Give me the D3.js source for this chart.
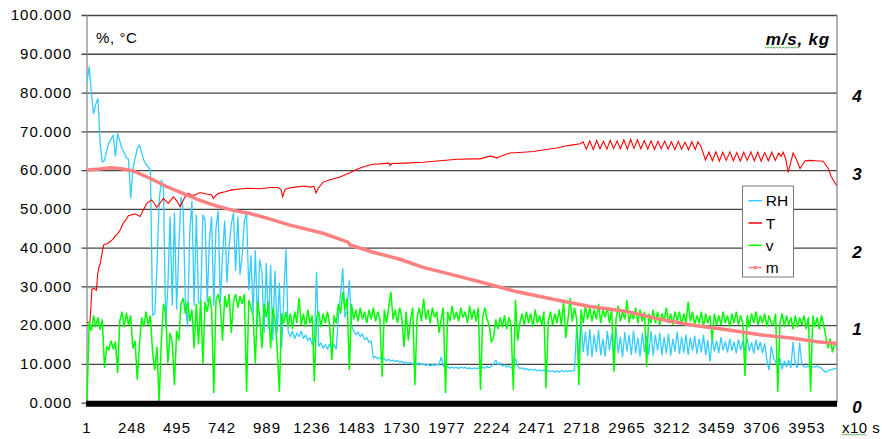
<!DOCTYPE html>
<html><head><meta charset="utf-8">
<script src="https://cdn.jsdelivr.net/npm/d3@7"></script>
<style>
body{margin:0;background:#fff}
svg{display:block}
text{font-family:"Liberation Sans",Arial,Helvetica,sans-serif;fill:#000}
</style>
</head><body>
<svg id="chart" width="882" height="439"></svg>
<script>
// ---------- DATA ----------
const xTickLabels = [1,248,495,742,989,1236,1483,1730,1977,2224,2471,2718,2965,3212,3459,3706,3953];
const leftTicks = [0,10,20,30,40,50,60,70,80,90,100];
const rightTickLabels = [0,1,2,3,4];
const seriesNames = ["RH","T","v","m"];
const timeMax = 4118;

// RH and v are read every 12 time steps, starting at time 1
const sampleStep = 12;
const rhValues = [
82.7,86.7,80,74.5,77,78.5,67,62,62.5,65,
67,68,69,63.5,69.5,67.5,65.5,64.5,63.2,62.8,
52.7,60.5,63,65.5,66.5,64.5,62.5,61.5,60.8,60.2,
22.5,23,35,52,57.5,55,19.6,30,48,25,
49,24,40,53,50,26,19.5,44,52,25,
48.5,26,25.5,48.5,47,26,42,48,25,45,
49.5,26,38,47,31,40,46,49,34,48,
33,38,47,48.9,29,38,23,39.4,20,37,
34,18,36,19,35.5,16,34,18,31,14,
27,39.6,18.5,17,18.5,16.5,18,17,18.5,16.5,
17.5,16,16.8,15,15.8,33.8,14.5,15.5,14,15,
13.8,15.2,14,15,13.8,22,28,34.7,22,24,
31.6,20,18.5,17.5,18.3,17,17.8,16.2,16.8,15.5,
16,11.5,11.9,11.3,11.7,11,11.4,10.8,11.2,10.7,
11,10.6,10.9,10.4,10.7,10.2,10.5,10.1,10.4,9.9,
10.3,9.8,10.2,9.8,10,9.6,9.9,9.5,9.8,9.6,
9.9,9.7,11.8,9.4,9.1,9.3,8.9,9.2,8.9,9.1,
8.8,9.2,8.9,9.1,8.8,9.0,8.7,9.0,8.8,9.0,
8.8,9.1,8.9,9.3,9.0,9.4,10,11,9.8,10.3,
9.4,9.8,9.2,9.5,9.0,9.3,11.5,9.5,8.8,9.0,
8.6,8.8,8.4,8.7,8.3,8.6,8.2,8.5,8.1,8.4,
8.0,8.3,8.0,8.2,7.9,8.2,7.9,8.3,8.0,8.2,
8.0,8.3,8.1,8.4,19.6,12,20.9,13,18.3,12,
19,11.8,17.5,13,18.8,12.2,16.5,11.9,18.5,13.5,
17.8,12,19.2,12.8,17,11.8,18.2,13.2,17.5,12.3,
18.6,12.8,16.8,11.9,18,13,17.2,12.4,18.5,12,
17.6,13.4,18,12.2,16.9,12.8,17.8,12.1,16.5,13.2,
18.3,12.5,17,12.9,17.6,12.3,16.8,13.4,17.3,12.6,
16.5,13,17.5,12.2,16.2,10.6,16.8,13.2,16,12.8,
16.9,13.5,15.8,12.9,16.5,13.4,15.7,12.8,16.3,13.6,
15.9,13,16.6,13.3,15.5,12.7,16.2,13.5,15.7,12.8,
15.3,11,8.4,14.5,11.8,10.5,9,11.5,8.6,10.8,
9.2,11,9,15.7,10,9,15.5,9.8,9.3,9.2,
9.4,9.1,9.3,9.2,9.5,9.1,8.9,8.2,7.9,8.2,
8.5,8.6,8.8,8.9
];
const vValues = [
0,21,18.5,22.5,19.5,22,18.8,21.5,9,14.5,
13.5,16,13.8,15.8,7.7,21,23.5,19.5,23.2,20,
22.5,14,16,5.9,15,22,19.6,23.5,20,22.5,
13,8.4,14.5,0.3,16,25.5,23,10.2,18,15.5,
4.6,18.5,16,25.5,27,23,26,21,24,14,
25.5,15,26.5,10,26,23.5,27.5,24,2.5,26.5,
28,25,16,27.5,24.5,28,18,26,28,24.5,
27.5,25.5,28,2.8,26.5,24.5,22.5,10.2,26,22.5,
14,25.5,22,26,14,24.5,21.5,14,2.8,23,
20.5,23.5,19.5,23,19,23.5,20.5,27,20,23,
19.5,24,20.5,22.5,5.4,22,23.5,19.5,23,20.5,
23.5,20,11,22.5,20.5,25.5,23,28.6,24,27,
8.4,25.5,21.5,24,21,24.5,21.5,23.5,20.5,24,
21.5,24.5,21,23.5,21.5,6.7,24,20.5,24.5,28.6,
21.5,24,20.5,24.5,22,14.4,23.5,16,21.5,24.5,
4.6,22,24.5,21,26.8,21.5,24,20.5,24.5,22,
23.5,18,21.5,24.5,2.5,23.5,21,25,21.5,23.5,
21,24.5,22,23.5,20.5,25,21.5,24,21,24.5,
3.3,22,24.5,21.5,20,15.5,17,21.5,19,22,
19.5,22.5,19,22,20,3.3,26.5,16,20.5,23,
20,23.5,20.5,23,19.5,24,20.5,22.5,20,23.5,
3.7,21,23.5,20,23,20.5,24,20,26,16.7,
21.5,27,21,24.5,21.5,4.6,24,20.5,25,21.5,
24.5,21,24,21.5,25.5,20.5,24,22,24.5,20.5,
24,8,21.5,25,21,23.5,21.5,26.5,20.5,23.5,
21.5,24.5,20.5,24,21,23.5,9.3,23,20.5,24,
20.5,23.5,20,23,21,24.5,20.5,23,20,23.5,
21,23.5,20,23,20.5,26,21,23.5,20,22.5,
20.5,23.5,19.5,23,20.5,22.5,16,23,20,22.5,
20,23.5,20.5,22.5,19.5,23,20.5,23.5,20,22.5,
20.5,6.9,22.5,19.5,23,20.5,23.5,20,22.5,20.5,
23,19.5,22.5,20.5,20,23,2.8,20.5,23,19.5,
22.5,20,22,19,22.5,19.5,22,20,22.5,19,
22,2.8,22.5,19.5,22,19,22.5,20,17,14,
16.5,13,15.5,14.5
];

// T: time (x10 s) and value (°C)
const tTime = [
1,17,23,28,39,53,59,67,72,78,89,94,111,127,144,160,171,182,200,215,228,243,265,292,310,329,356,369,384,402,
420,447,475,495,512,528,539,557,577,594,621,649,686,694,709,722,759,795,841,887,951,1006,1051,1066,1075,1088,1106,1143,1198,1225,
1247,1258,1269,1297,1335,1390,1445,1483,1527,1571,1610,1659,1664,1675,1747,1846,1939,2032,2131,2159,2213,2235,2252,2268,2323,2395,2450,2504,2581,2625,
2669,2708,2724,2742,2761,2780,2799,2817,2836,2855,2873,2892,2911,2929,2948,2967,2985,3004,3023,3041,3060,3079,3097,3116,3135,3153,3172,3191,3209,3228,
3247,3265,3284,3303,3321,3340,3355,3372,3396,3415,3434,3453,3472,3491,3510,3530,3549,3568,3587,3606,3625,3645,3664,3683,3702,3721,3741,3760,3779,3798,
3812,3822,3836,3850,3864,3877,3895,3915,3930,3943,3970,4000,4042,4069,4087,4105,4118
];
const tValues = [
20.7,20.8,25,29.3,29.5,29,33,35,35.5,37,40,40.8,41,41.5,42.2,43.2,43.7,44.5,46.3,47.2,48.2,48.4,48.7,48,49.7,51.4,52.3,51.5,50.4,51.5,
52.7,51.4,53.1,52,50.6,52,53.1,54,53.5,53.6,54.2,53.9,53.6,52.7,53.5,54,54.4,54.9,55.1,55.3,55.2,55.5,55.5,55,53.1,55,55.3,55.6,55.9,55.6,
55.8,54.1,55.2,56.9,57.5,58.2,59.3,60.2,61,61.5,61.6,61.8,61.2,61.7,61.8,62,62.4,62.8,62.9,62.9,63.6,63.4,63.1,63.5,64.4,64.6,64.8,65.2,65.7,66.2,
66.5,66.8,67.3,65.4,67.5,65.3,67.6,65.5,67.4,65.4,67.7,65.6,67.5,65.5,67.8,65.4,67.9,65.6,67.8,65.5,67.6,65.4,67.5,65.3,67.4,65.5,67.5,65.4,67.3,65.3,
67.4,65.4,67.2,65.2,67.3,65.3,67.3,66,62.6,64.6,62.4,64.7,62.3,64.6,62.5,64.7,62.4,64.5,62.3,64.6,62.5,64.7,62.4,64.6,62.3,64.5,62.4,64.6,62.5,64.4,
63.5,64.6,63,59.4,62,64.4,62.8,60.4,61.5,62.4,62.5,62.4,62.3,60.5,58.3,56.8,56
];

// m: time (x10 s) and mass (kg)
const mTime = [1,72,127,182,254,347,440,528,621,715,803,896,989,1115,1297,1434,1445,1571,1719,1846,2032,2213,2362,2581,2762,2966,3147,3328,3515,3696,3877,4009,4118];
const mValues = [3.0,3.015,3.03,3.02,2.99,2.895,2.785,2.70,2.61,2.535,2.48,2.44,2.38,2.29,2.185,2.07,2.035,1.94,1.85,1.745,1.635,1.525,1.43,1.325,1.24,1.175,1.075,1.0,0.94,0.875,0.83,0.785,0.765];

// ---------- DRAW ----------
const colors = {RH:"#33CCFF", T:"#FF0000", v:"#00FF00", m:"#FF8080"};
const svg = d3.select("#chart");
const plot = {left:87, right:837, top:15, bottom:402.7};

const x = d3.scaleLinear().domain([1, timeMax]).range([plot.left, plot.right]);
const y = d3.scaleLinear().domain([0, 100]).range([plot.bottom, plot.top]);
const yR = d3.scaleLinear().domain([0, 5]).range([plot.bottom, plot.top]);

// gridlines + left ticks
const yAxis = d3.axisLeft(y).tickValues(leftTicks)
  .tickSize(-(plot.right - plot.left)).tickSizeOuter(0).tickPadding(15)
  .tickFormat(d3.format(".3f"));
const gy = svg.append("g").attr("transform", `translate(${plot.left},0)`).call(yAxis);
gy.select(".domain").remove();
gy.selectAll(".tick line").attr("stroke", "#444").attr("stroke-width", 1.3).attr("x1", -5.5);
gy.selectAll(".tick text").attr("font-size", 15).attr("letter-spacing", "1px")
  .attr("font-family", '"Liberation Sans",Arial,sans-serif').attr("fill", "#000");

// plot frame
svg.append("line").attr("x1", plot.left).attr("x2", plot.left).attr("y1", plot.top).attr("y2", plot.bottom)
  .attr("stroke", "#808080").attr("stroke-width", 1.2);
svg.append("line").attr("x1", plot.right).attr("x2", plot.right).attr("y1", plot.top).attr("y2", plot.bottom)
  .attr("stroke", "#808080").attr("stroke-width", 1.2);

// series
const rhData = rhValues.map((v, i) => [1 + i * sampleStep, v]);
const vData = vValues.map((v, i) => [1 + i * sampleStep, v]);
const tData = tTime.map((t, i) => [t, tValues[i]]);
const mData = mTime.map((t, i) => [t, mValues[i]]);

const lineL = d3.line().x(d => x(d[0])).y(d => y(d[1]));
const lineR = d3.line().x(d => x(d[0])).y(d => yR(d[1]));

svg.append("path").datum(rhData).attr("d", lineL).attr("fill", "none")
  .attr("stroke", colors.RH).attr("stroke-width", 1.3).attr("stroke-linejoin", "bevel");
svg.append("path").datum(tData).attr("d", lineL).attr("fill", "none")
  .attr("stroke", colors.T).attr("stroke-width", 1.1);
svg.append("path").datum(vData).attr("d", lineL).attr("fill", "none")
  .attr("stroke", colors.v).attr("stroke-width", 1.5).attr("stroke-linejoin", "bevel");
svg.append("path").datum(mData).attr("d", lineR).attr("fill", "none")
  .attr("stroke", colors.m).attr("stroke-width", 3.5);

// heavy category axis line
svg.append("line").attr("x1", plot.left - 1).attr("x2", plot.right).attr("y1", y(0) + 1).attr("y2", y(0) + 1)
  .attr("stroke", "#000").attr("stroke-width", 6);

// x tick labels
svg.append("g").selectAll("text").data(xTickLabels).join("text")
  .attr("x", d => x(d)).attr("y", 433).attr("text-anchor", "middle")
  .attr("font-size", 15).attr("letter-spacing", "1px").text(d => d);
svg.append("text").attr("x", 842).attr("y", 433).attr("font-size", 15).attr("letter-spacing", "0.5px").text("x10 s");

// right labels (secondary axis)
svg.append("g").selectAll("text").data(rightTickLabels).join("text")
  .attr("x", 857).attr("y", d => yR(d) + 4).attr("dy", "0.35em").attr("text-anchor", "middle")
  .attr("font-size", 17).attr("font-weight", "bold").attr("font-style", "italic").text(d => d);

// axis titles
svg.append("text").attr("x", 96).attr("y", 43).attr("font-size", 15).attr("letter-spacing", "0.6px").text("%, °C");
svg.append("text").attr("x", 830).attr("y", 45).attr("text-anchor", "end")
  .attr("font-size", 17).attr("font-weight", "bold").attr("font-style", "italic").attr("letter-spacing", "0.8px").text("m/s, kg");

// spell-check squiggles
function squiggle(x0, x1, yy) {
  const pts = [];
  for (let xx = x0, k = 0; xx <= x1; xx += 1.5, k++) pts.push([xx, yy + (k % 2 ? 1 : 0)]);
  svg.append("path").attr("d", d3.line()(pts)).attr("fill", "none").attr("stroke", "#3a9a3a").attr("stroke-width", 0.8);
}
squiggle(765, 798, 47);
squiggle(842, 867, 434);

// legend
const lg = svg.append("g").attr("transform", "translate(742.5,186)");
lg.append("rect").attr("width", 51).attr("height", 91).attr("fill", "#fff").attr("stroke", "#7a7a7a").attr("stroke-width", 1);
seriesNames.forEach((name, i) => {
  const cy = 14.7 + i * 22.3;
  lg.append("line").attr("x1", 6).attr("x2", 19.5).attr("y1", cy).attr("y2", cy)
    .attr("stroke", colors[name]).attr("stroke-width", 1.5);
  if (name === "m") lg.append("rect").attr("x", 11.2).attr("y", cy - 1.5).attr("width", 3).attr("height", 3).attr("fill", colors.m);
  lg.append("text").attr("x", 23.2).attr("y", cy).attr("dy", "0.36em").attr("font-size", 15.5).text(name);
});
</script>
</body></html>
